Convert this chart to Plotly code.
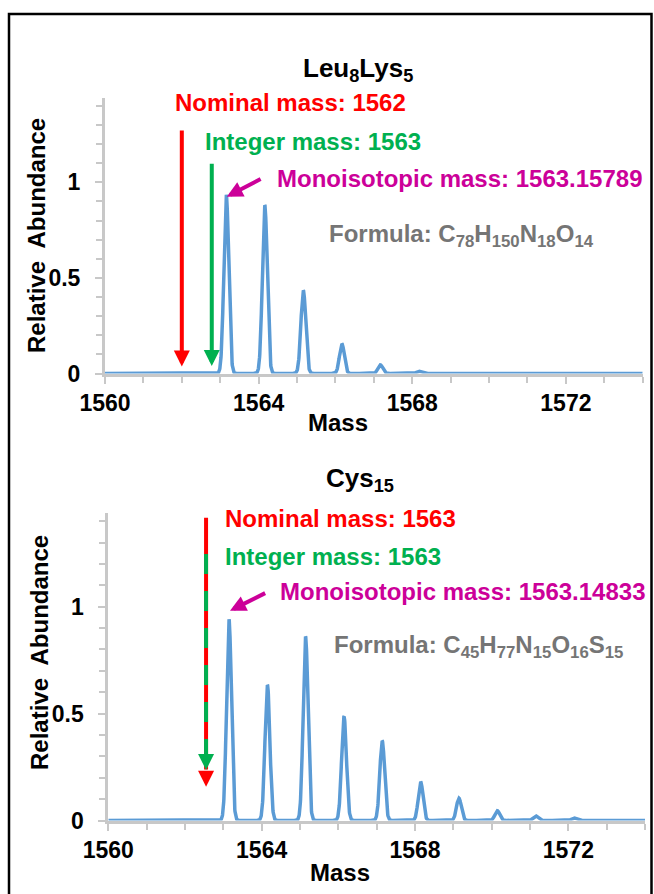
import numpy as np
import plotly.graph_objects as go

# ---------------- data ----------------
# Leu8Lys5 isotope peaks
top_peak_mass = [1563.158, 1564.161, 1565.164, 1566.168, 1567.171, 1568.174]
top_peak_abund = [0.935, 0.880, 0.435, 0.155, 0.045, 0.012]
# Cys15 isotope peaks
bot_peak_mass = [1563.148, 1564.151, 1565.146, 1566.149, 1567.146, 1568.148,
                 1569.146, 1570.148, 1571.146, 1572.148, 1573.146]
bot_peak_abund = [0.941, 0.634, 0.860, 0.486, 0.372, 0.181,
                  0.104, 0.046, 0.022, 0.012, 0.004]
peak_sigma = 0.063  # peak width of the simulated profile (mass units)

mass_range = [1560, 1574]

# marker arrows: [x, y_top, y_tip]
top_nominal_arrow = [1562.0, 1.279, 0.036]
top_integer_arrow = [1562.78, 1.105, 0.039]
top_mono_arrow = [1563.17, 0.925, 1564.09, 1.021]   # tip x, tip y, tail x, tail y
bot_combined_arrow = [1562.55, 1.416, 0.158, 0.236]  # x, top, red tip, green tip
bot_mono_arrow = [1563.175, 0.981, 1564.13, 1.067]

top_title = "<b>Leu<sub>8</sub>Lys<sub>5</sub></b>"
bot_title = "<b>Cys<sub>15</sub></b>"
top_labels = ["<b>Nominal mass: 1562</b>", "<b>Integer mass: 1563</b>",
              "<b>Monoisotopic mass: 1563.15789</b>",
              "<b>Formula: C<sub>78</sub>H<sub>150</sub>N<sub>18</sub>O<sub>14</sub></b>"]
top_label_xy = [(1561.78, 1.415), (1562.56, 1.216), (1564.43, 1.021), (1565.78, 0.724)]
bot_labels = ["<b>Nominal mass: 1563</b>", "<b>Integer mass: 1563</b>",
              "<b>Monoisotopic mass: 1563.14833</b>",
              "<b>Formula: C<sub>45</sub>H<sub>77</sub>N<sub>15</sub>O<sub>16</sub>S<sub>15</sub></b>"]
bot_label_xy = [(1563.0, 1.413), (1563.0, 1.237), (1564.43, 1.070), (1565.83, 0.813)]

RED = "#ff0000"
GREEN = "#00b050"
MAGENTA = "#cc0099"
GRAY_TXT = "#757575"
BLUE = "#5b9bd5"
AXIS_GRAY = "#c8c8c8"
FONT = "Arial, Liberation Sans, sans-serif"
label_colors = [RED, GREEN, MAGENTA, GRAY_TXT]

# ---------------- profile ----------------
xgrid = np.linspace(mass_range[0], mass_range[1], 2801)


def profile(masses, abunds):
    y = np.zeros_like(xgrid)
    for m, h in zip(masses, abunds):
        y += h * np.exp(-0.5 * ((xgrid - m) / peak_sigma) ** 2)
    return y


fig = go.Figure()
fig.add_trace(go.Scatter(x=xgrid, y=profile(top_peak_mass, top_peak_abund), mode="lines",
                         line=dict(color=BLUE, width=3.5), xaxis="x", yaxis="y",
                         cliponaxis=False, hoverinfo="skip"))
fig.add_trace(go.Scatter(x=xgrid, y=profile(bot_peak_mass, bot_peak_abund), mode="lines",
                         line=dict(color=BLUE, width=3.5), xaxis="x2", yaxis="y2",
                         cliponaxis=False, hoverinfo="skip"))

# bottom red / green dashed combined arrow shaft
bx, btop, bred, bgreen = bot_combined_arrow
fig.add_trace(go.Scatter(x=[bx, bx], y=[btop, bred + 0.08], mode="lines",
                         line=dict(color=RED, width=4), xaxis="x2", yaxis="y2",
                         hoverinfo="skip"))
fig.add_trace(go.Scatter(x=[bx, bx], y=[btop - 0.17, bgreen + 0.06], mode="lines",
                         line=dict(color=GREEN, width=4, dash="20px,17px"),
                         xaxis="x2", yaxis="y2", hoverinfo="skip"))

annotations = []


def arrow(xr, yr, x, y, ax, ay, color):
    annotations.append(dict(xref=xr, yref=yr, axref=xr, ayref=yr, x=x, y=y, ax=ax, ay=ay,
                            text="", showarrow=True, arrowhead=2, arrowsize=0.8,
                            arrowwidth=4, arrowcolor=color))


arrow("x", "y", top_nominal_arrow[0], top_nominal_arrow[2], top_nominal_arrow[0], top_nominal_arrow[1], RED)
arrow("x", "y", top_integer_arrow[0], top_integer_arrow[2], top_integer_arrow[0], top_integer_arrow[1], GREEN)
arrow("x", "y", *top_mono_arrow, MAGENTA)
arrow("x2", "y2", bx, bred, bx, bred + 0.07, RED)
arrow("x2", "y2", bx, bgreen, bx, bgreen + 0.07, GREEN)
arrow("x2", "y2", *bot_mono_arrow, MAGENTA)

for (lx, ly), t, c in zip(top_label_xy, top_labels, label_colors):
    annotations.append(dict(xref="x", yref="y", x=lx, y=ly, text=t, showarrow=False,
                            xanchor="left", yanchor="middle",
                            font=dict(family=FONT, size=24, color=c)))
for (lx, ly), t, c in zip(bot_label_xy, bot_labels, label_colors):
    annotations.append(dict(xref="x2", yref="y2", x=lx, y=ly, text=t, showarrow=False,
                            xanchor="left", yanchor="middle",
                            font=dict(family=FONT, size=24, color=c)))

W, H = 654, 894


def px(xp):
    return xp / W


def py(yp):
    return 1 - yp / H


title_font = dict(family=FONT, size=26, color="black")
axis_title_font = dict(family=FONT, size=24, color="black")
annotations += [
    dict(xref="paper", yref="paper", x=px(358), y=py(70), text=top_title, showarrow=False,
         xanchor="center", yanchor="middle", font=title_font),
    dict(xref="paper", yref="paper", x=px(360), y=py(479), text=bot_title, showarrow=False,
         xanchor="center", yanchor="middle", font=title_font),
    dict(xref="paper", yref="paper", x=px(337.5), y=py(422), text="<b>Mass</b>", showarrow=False,
         xanchor="center", yanchor="middle", font=axis_title_font),
    dict(xref="paper", yref="paper", x=px(340), y=py(872), text="<b>Mass</b>", showarrow=False,
         xanchor="center", yanchor="middle", font=axis_title_font),
    dict(xref="paper", yref="paper", x=px(36), y=py(236), text="<b>Relative  Abundance</b>",
         showarrow=False, textangle=-90, xanchor="center", yanchor="middle", font=axis_title_font),
    dict(xref="paper", yref="paper", x=px(39), y=py(653), text="<b>Relative  Abundance</b>",
         showarrow=False, textangle=-90, xanchor="center", yanchor="middle", font=axis_title_font),
]

tickfont = dict(family=FONT, size=23, color="black", weight="bold")


def xaxis_cfg(domain, anchor):
    return dict(domain=domain, anchor=anchor, range=mass_range, tickmode="linear",
                tick0=1560, dtick=4, ticks="outside", ticklen=7, tickwidth=2,
                tickcolor=AXIS_GRAY, showline=True, linecolor=AXIS_GRAY, linewidth=3,
                showgrid=False, zeroline=False, tickfont=tickfont, ticklabelstandoff=0,
                automargin=False,
                minor=dict(tickmode="linear", tick0=1560, dtick=1, ticks="outside",
                           ticklen=6, tickwidth=2, tickcolor=AXIS_GRAY, showgrid=False))


def yaxis_cfg(domain, anchor, rng):
    return dict(domain=domain, anchor=anchor, range=rng, tickmode="linear",
                tick0=0, dtick=0.5, ticks="outside", ticklen=7, tickwidth=2,
                tickcolor=AXIS_GRAY, showline=True, linecolor=AXIS_GRAY, linewidth=3,
                showgrid=False, zeroline=False, tickfont=tickfont, ticklabelstandoff=10,
                automargin=False,
                minor=dict(tickmode="linear", tick0=0, dtick=0.1, ticks="outside",
                           ticklen=6, tickwidth=2, tickcolor=AXIS_GRAY, showgrid=False))


def inside_x(over, anchor):
    return dict(overlaying=over, anchor=anchor, range=mass_range, tickmode="linear",
                tick0=1560, dtick=4, ticks="inside", ticklen=7, tickwidth=2,
                tickcolor=AXIS_GRAY, showline=False, showgrid=False, zeroline=False,
                showticklabels=False, automargin=False)


def inside_y(over, anchor, rng):
    return dict(overlaying=over, anchor=anchor, range=rng, tickmode="linear",
                tick0=0, dtick=0.5, ticks="inside", ticklen=7, tickwidth=2,
                tickcolor=AXIS_GRAY, showline=False, showgrid=False, zeroline=False,
                showticklabels=False, side="left", automargin=False)


fig.update_layout(
    width=W, height=H, margin=dict(l=0, r=0, t=0, b=0, pad=0, autoexpand=False),
    paper_bgcolor="white", plot_bgcolor="white", showlegend=False,
    xaxis=xaxis_cfg([px(105), px(642.7)], "y"),
    yaxis=yaxis_cfg([py(373.5), py(98.2)], "x", [0, 1.44]),
    xaxis2=xaxis_cfg([px(108.3), px(645)], "y2"),
    yaxis2=yaxis_cfg([py(820.5), py(512.6)], "x2", [0, 1.44]),
    xaxis3=inside_x("x", "y"),
    yaxis3=inside_y("y", "x", [0, 1.44]),
    xaxis4=inside_x("x2", "y2"),
    yaxis4=inside_y("y2", "x2", [0, 1.44]),
    annotations=annotations,
    shapes=[dict(type="rect", xref="paper", yref="paper", x0=px(9), x1=px(651.5),
                 y0=-0.02, y1=py(14), line=dict(color="black", width=2.5))],
)

fig.write_html("out.html")
